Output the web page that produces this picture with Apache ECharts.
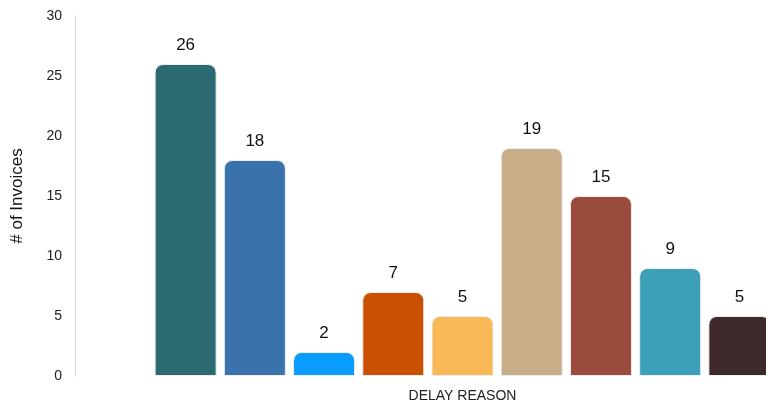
<!DOCTYPE html>
<html>
<head>
<meta charset="utf-8">
<script src="https://cdn.jsdelivr.net/npm/echarts@6/dist/echarts.min.js"></script>
<style>html,body{margin:0;padding:0;background:#fff}#c{width:766px;height:403px}</style>
</head>
<body>
<div id="c"></div>
<script>
const categories = ['R1','R2','R3','R4','R5','R6','R7','R8','R9'];
const values = [26, 18, 2, 7, 5, 19, 15, 9, 5];
const barColors = ['#2b6a71','#3a73ab','#0a9bff','#c95000','#f9b856','#c8ae88','#9a4b3c','#3ca0b9','#3d292a'];
const yTicks = [0, 5, 10, 15, 20, 25, 30];

const chart = echarts.init(document.getElementById('c'), null, {renderer:'canvas'});
chart.setOption({
  animation: false,
  textStyle: {fontFamily: 'Liberation Sans, Arial, sans-serif'},
  grid: {left: 151, right: -8, top: 16, bottom: 27, containLabel: false, outerBoundsMode: 'none'},
  xAxis: {
    type: 'category',
    data: categories,
    name: 'DELAY REASON',
    nameLocation: 'middle',
    nameGap: 13,
    nameTextStyle: {fontSize: 14, color: '#222', verticalAlign: 'top'},
    axisLine: {show: false},
    axisTick: {show: false},
    axisLabel: {show: false}
  },
  yAxis: {
    type: 'value',
    min: yTicks[0],
    max: yTicks[yTicks.length - 1],
    interval: 5,
    offset: 76,
    name: '# of Invoices',
    nameLocation: 'middle',
    nameGap: 49,
    nameTextStyle: {fontSize: 17, color: '#111'},
    axisLine: {show: true, lineStyle: {color: '#dddddd', width: 1}},
    axisTick: {show: false},
    splitLine: {show: false},
    axisLabel: {fontSize: 14, color: '#222', margin: 13}
  },
  series: [{
    type: 'bar',
    barWidth: 62,
    data: values.map((v, i) => ({
      value: v,
      itemStyle: {color: barColors[i]}
    })),
    itemStyle: {borderRadius: [8, 8, 0, 0], borderColor: '#eeeeee', borderWidth: 1},
    label: {show: true, position: 'top', distance: 10, fontSize: 17, color: '#111'}
  }]
});
</script>
</body>
</html>
